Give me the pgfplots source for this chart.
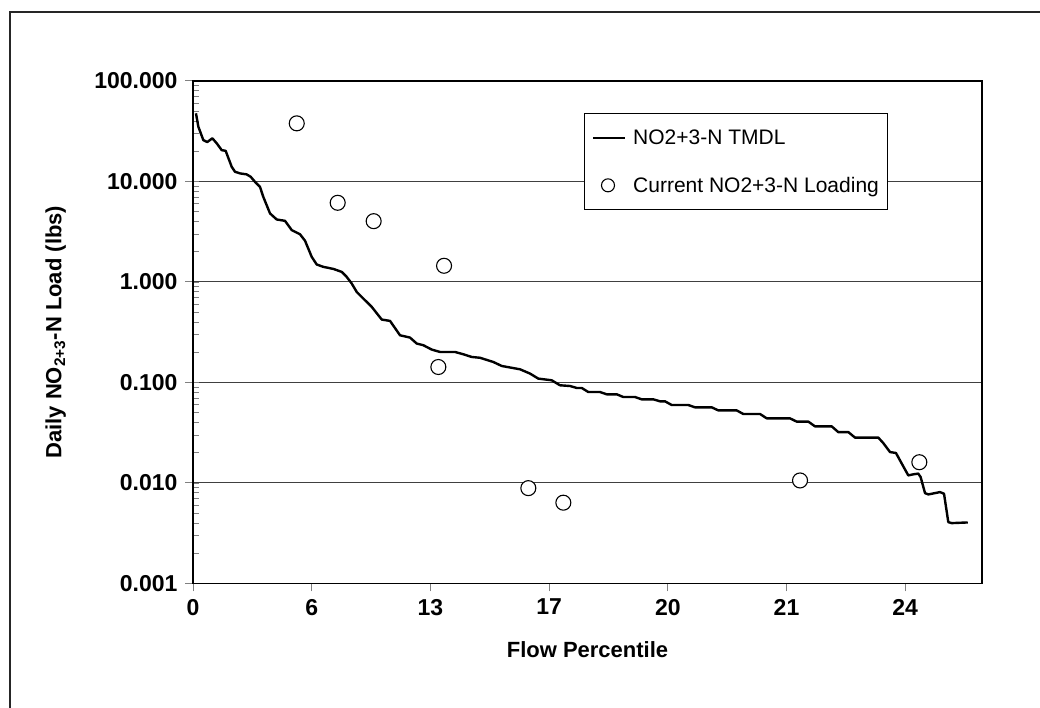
\documentclass[border=0pt]{standalone}
\usepackage{fontspec}
\setmainfont{Liberation Sans}
\usepackage{pgfplots}
\pgfplotsset{compat=1.18}
\pgfplotsset{
  linelegend/.style={legend image code/.code={\draw[##1] (0pt,0pt) -- (32pt,0pt);}},
  marklegend/.style={legend image code/.code={\draw[mark repeat=2,mark phase=2,##1,mark size=6.5pt] plot coordinates {(0pt,0pt) (15pt,0pt) (32pt,0pt)};}},
}
\begin{document}
\begin{tikzpicture}[x=1pt,y=1pt]
\useasboundingbox (0,0) rectangle (1040,708);
\draw[line width=1.3pt, black!85] (10,-5) -- (10,696) -- (1045,696);
\begin{axis}[
  at={(193pt,124.5pt)}, anchor=south west,
  scale only axis, width=789pt, height=502.5pt,
  xmin=0, xmax=6.647,
  ymode=log, ymin=0.001, ymax=100,
  xtick={0,1,2,3,4,5,6},
  xticklabels={0,6,13,17,20,21,24},
  ytick={0.001,0.01,0.1,1,10,100},
  yticklabels={0.001,0.010,0.100,1.000,10.000,100.000},
  yminorticks=true,
  xtick pos=bottom, ytick pos=left,
  tick align=outside,
  major tick length=8pt, minor tick length=6pt,
  every minor tick/.append style={xshift=6pt, line width=0.9pt},
  every major tick/.append style={line width=1pt},
  ymajorgrids=true,
  major grid style={black!75, line width=1pt},
  axis line style={line width=1.3pt},
  tick label style={font=\bfseries\fontsize{23}{23}\selectfont},
  yticklabel style={xshift=-4pt},
  xticklabel style={yshift=-4pt},
  xlabel={\bfseries Flow Percentile},
  ylabel={\bfseries Daily NO\textsubscript{2+3}-N Load (lbs)},
  label style={font=\bfseries\fontsize{22}{22}\selectfont},
  xlabel style={at={(axis description cs:0.5,-0.132)}, anchor=center},
  ylabel style={at={(axis description cs:-0.174,0.5)}, anchor=center},
  legend style={at={(0.496,0.743)}, anchor=south west,
    font=\fontsize{21}{25}\selectfont, draw=black, line width=0.9pt,
    fill=white, inner xsep=7pt, inner ysep=14pt, row sep=27pt, column sep=5pt,
    cells={anchor=west}},
  legend cell align=left,
]
\addplot[black, line width=2.4pt, line join=round, mark=none, linelegend]
coordinates {
(0.025,47.7) (0.045,35.1) (0.087,25.8) (0.120,24.7) (0.163,26.9) (0.200,23.96)
(0.242,20.5) (0.275,20.2) (0.326,14.0) (0.354,12.5) (0.396,12.04) (0.452,11.77)
(0.486,11.14) (0.522,9.93) (0.564,8.86) (0.592,7.04) (0.649,4.81) (0.705,4.19)
(0.775,4.06) (0.832,3.28) (0.901,2.99) (0.944,2.57) (1.000,1.78) (1.042,1.494)
(1.098,1.414) (1.182,1.35) (1.253,1.26) (1.295,1.124) (1.337,0.966) (1.379,0.797)
(1.449,0.659) (1.506,0.565) (1.590,0.423) (1.660,0.410) (1.744,0.295) (1.828,0.280)
(1.885,0.244) (1.940,0.235) (2.011,0.2127) (2.081,0.2013) (2.207,0.2013) (2.277,0.191)
(2.348,0.1795) (2.418,0.1762) (2.530,0.160) (2.601,0.146) (2.755,0.1353) (2.839,0.1227)
(2.909,0.1093) (3.022,0.1052) (3.092,0.0938) (3.176,0.0923) (3.233,0.0882) (3.275,0.0882)
(3.330,0.0804) (3.429,0.0804) (3.485,0.0763) (3.570,0.0763) (3.625,0.0717) (3.724,0.0717)
(3.780,0.068) (3.878,0.068) (3.934,0.065) (3.976,0.065) (4.033,0.0597) (4.173,0.0597)
(4.229,0.0566) (4.370,0.0566) (4.425,0.0528) (4.580,0.0528) (4.636,0.0486) (4.777,0.0486)
(4.833,0.044) (5.029,0.044) (5.086,0.0408) (5.184,0.0408) (5.240,0.0366) (5.381,0.0366)
(5.436,0.0321) (5.521,0.0321) (5.577,0.0283) (5.773,0.0283) (5.815,0.025) (5.872,0.0203)
(5.922,0.0199) (5.971,0.0156) (6.026,0.0119) (6.068,0.0122) (6.110,0.0124) (6.130,0.01145)
(6.167,0.00793) (6.195,0.0077) (6.293,0.00812) (6.327,0.00782) (6.363,0.00408) (6.392,0.00399)
(6.527,0.00405)
};
\addlegendentry{NO2+3-N TMDL}
\addplot[only marks, mark=*, mark size=7.5pt,
  mark options={draw=black, fill=white, line width=1.1pt}, marklegend]
coordinates {
(0.874,37.9) (1.219,6.14) (1.522,4.03) (2.115,1.45) (2.067,0.1426)
(2.825,0.00889) (3.120,0.00637) (5.114,0.0106) (6.119,0.0161)
};
\addlegendentry{Current NO2+3-N Loading}
\end{axis}
\end{tikzpicture}
\end{document}
